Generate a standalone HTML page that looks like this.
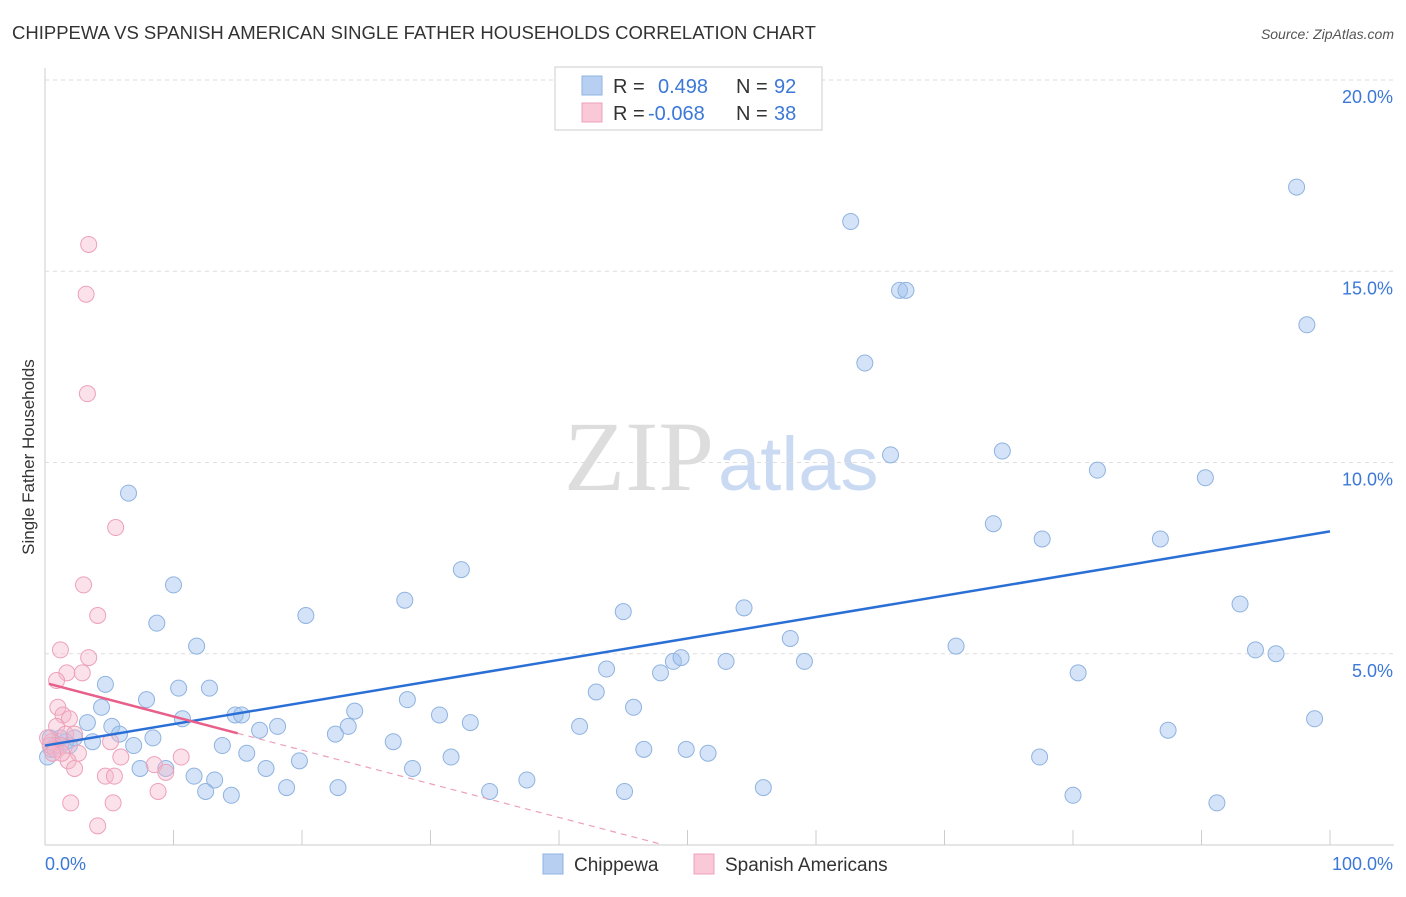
<!DOCTYPE html>
<html><head><meta charset="utf-8"><style>
body{margin:0;background:#fff;font-family:"Liberation Sans",sans-serif}
</style></head><body>
<svg id="c" width="1406" height="892" style="font-family:'Liberation Sans',sans-serif">
<text x="12" y="39" font-size="18.5" fill="#333">CHIPPEWA VS SPANISH AMERICAN SINGLE FATHER HOUSEHOLDS CORRELATION CHART</text>
<text x="1394" y="39" font-size="14" fill="#555" text-anchor="end" font-style="italic">Source: ZipAtlas.com</text>
<text x="34" y="457" font-size="17" fill="#333" text-anchor="middle" transform="rotate(-90 34 457)">Single Father Households</text>
<g><text x="714" y="490" font-size="100" fill="#ddd" text-anchor="end" style="font-family:'Liberation Serif',serif">ZIP</text><text x="718" y="490" font-size="76" fill="#c9daf2">atlas</text></g>
<g id="grid"></g><g id="marks"></g>
<g>
<rect x="555" y="67" width="267" height="63" fill="#fff" stroke="#ccc"/>
<rect x="582" y="76" width="20" height="19" fill="#b7d0f2" stroke="#8fb3e0"/>
<rect x="582" y="103" width="20" height="19" fill="#f9c9d7" stroke="#eea0b8"/>
<text x="613" y="93" font-size="20" fill="#333">R =</text><text x="658" y="93" font-size="20" fill="#3b78d8">0.498</text>
<text x="736" y="93" font-size="20" fill="#333">N =</text><text x="774" y="93" font-size="20" fill="#3b78d8">92</text>
<text x="613" y="120" font-size="20" fill="#333">R =</text><text x="648" y="120" font-size="20" fill="#3b78d8">-0.068</text>
<text x="736" y="120" font-size="20" fill="#333">N =</text><text x="774" y="120" font-size="20" fill="#3b78d8">38</text>
</g>
<g>
<rect x="543" y="854" width="20" height="20" fill="#b7d0f2" stroke="#8fb3e0"/><text x="574" y="871" font-size="19" fill="#333">Chippewa</text>
<rect x="694" y="854" width="20" height="20" fill="#f9c9d7" stroke="#eea0b8"/><text x="725" y="871" font-size="19" fill="#333">Spanish Americans</text>
</g>
</svg>
<script>
const xTicks=[0,10,20,30,40,50,60,70,80,90,100];
const yTicks=[5,10,15,20];
const chipX=[6.5,10,8.7,11.8,10.4,12.8,7.9,4.7,4.4,3.3,5.2,5.8,3.7,6.9,8.4,10.7,14.8,15.3,13.8,15.7,16.7,18.1,9.4,7.4,11.6,13.2,12.5,14.5,17.2,18.8,19.8,20.3,22.8,22.6,23.6,24.1,27.1,28,28.2,28.6,30.7,31.6,32.4,33.1,34.6,37.5,41.6,42.9,43.7,45,45.1,45.8,46.6,47.9,48.9,49.5,49.9,51.6,53,54.4,55.9,58,59.1,62.7,63.8,65.8,66.5,67,70.9,73.8,74.5,77.4,77.6,80,80.4,81.9,86.8,87.4,90.3,91.2,93,94.2,95.8,97.4,98.2,98.8,0.4,0.8,1.2,1.6,1.9,2.3,0.5,0.2];
const chipY=[9.2,6.8,5.8,5.2,4.1,4.1,3.8,4.2,3.6,3.2,3.1,2.9,2.7,2.6,2.8,3.3,3.4,3.4,2.6,2.4,3,3.1,2,2,1.8,1.7,1.4,1.3,2,1.5,2.2,6,1.5,2.9,3.1,3.5,2.7,6.4,3.8,2,3.4,2.3,7.2,3.2,1.4,1.7,3.1,4,4.6,6.1,1.4,3.6,2.5,4.5,4.8,4.9,2.5,2.4,4.8,6.2,1.5,5.4,4.8,16.3,12.6,10.2,14.5,14.5,5.2,8.4,10.3,2.3,8,1.3,4.5,9.8,8,3,9.6,1.1,6.3,5.1,5,17.2,13.6,3.3,2.8,2.6,2.8,2.7,2.6,2.8,2.5,2.3];
const spX=[3.4,3.2,3.3,5.5,3,4.1,1.2,3.4,1.7,2.9,0.9,1,1.4,1.9,0.9,1.6,2.3,0.5,1.2,2.6,1.8,5.1,5.9,8.5,9.4,10.6,4.7,5.4,2.3,8.8,2,5.3,4.1,0.4,0.8,1.3,0.2,0.6];
const spY=[15.7,14.4,11.8,8.3,6.8,6,5.1,4.9,4.5,4.5,4.3,3.6,3.4,3.3,3.1,2.9,2.9,2.7,2.6,2.4,2.2,2.7,2.3,2.1,1.9,2.3,1.8,1.8,2,1.4,1.1,1.1,0.5,2.6,2.5,2.4,2.8,2.4];
const chipLine=[2.6,8.2];
const spLine=[4.24,-0.088];
const NS="http://www.w3.org/2000/svg";
const X=v=>45+v*12.85, Y=v=>845-v*38.25;
function mk(p,t,a){const e=document.createElementNS(NS,t);for(const k in a)e.setAttribute(k,a[k]);p.appendChild(e);return e;}
const g=document.getElementById('grid'),m=document.getElementById('marks');
let ax=mk(g,'line',{x1:45,y1:68,x2:45,y2:845,stroke:'#ccc'});


let bx=mk(g,'line',{x1:45,y1:845,x2:1394,y2:845,stroke:'#ccc'});


yTicks.forEach(v=>{
 let l=mk(g,'line',{x1:45,y1:Y(v),x2:1394,y2:Y(v),stroke:'#ddd','stroke-dasharray':'4,4'});
 
 
 let t=mk(g,'text',{x:1393,y:Y(v)+23,'font-size':18,fill:'#3b78d8','text-anchor':'end'});t.textContent=v.toFixed(1)+'%';
 
 
});
xTicks.forEach(v=>{
 if(v>0){let l=mk(g,'line',{x1:X(v),y1:830,x2:X(v),y2:845,stroke:'#ccc'});
 
 }
});
[[0,'0.0%',45,'start'],[100,'100.0%',1393,'end']].forEach(a=>{
 let t=mk(g,'text',{x:a[2],y:870,'font-size':18,fill:'#3b78d8','text-anchor':a[3]});t.textContent=a[1];
 
 
});
chipX.forEach((v,i)=>{let c=mk(m,'circle',{cx:X(v),cy:Y(chipY[i]),r:8,fill:'rgba(160,192,238,0.45)',stroke:'#8fb3e0','stroke-width':1});
 
 });
spX.forEach((v,i)=>{let c=mk(m,'circle',{cx:X(v),cy:Y(spY[i]),r:8,fill:'rgba(246,182,202,0.4)',stroke:'#eea0b8','stroke-width':1});
 
 });
let bl=mk(m,'line',{x1:X(0),y1:Y(chipLine[0]),x2:X(100),y2:Y(chipLine[1]),stroke:'#2a6fd6','stroke-width':2.5});


let pl=mk(m,'line',{x1:X(0.3),y1:Y(spLine[0]+spLine[1]*0.3),x2:X(15),y2:Y(spLine[0]+spLine[1]*15),stroke:'#e8608a','stroke-width':2.5});


let pd=mk(m,'line',{x1:X(15),y1:Y(spLine[0]+spLine[1]*15),x2:X(48),y2:Y(spLine[0]+spLine[1]*48),stroke:'#eea0b8','stroke-width':1.2,'stroke-dasharray':'6,5'});


</script>
</body></html>
